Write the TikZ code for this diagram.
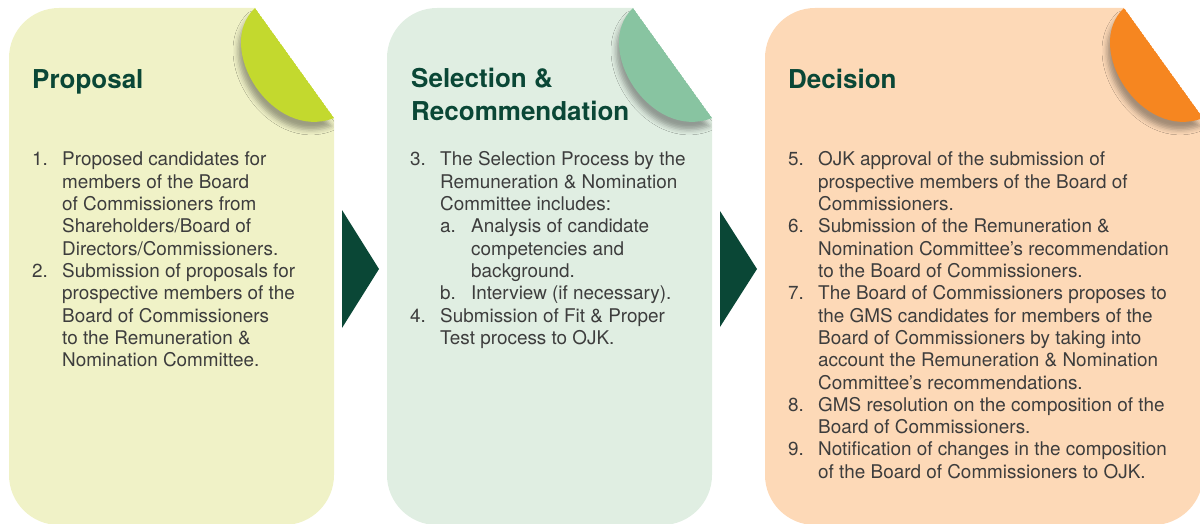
\documentclass[tikz,border=0pt]{standalone}
\usepackage{fontspec}
\setmainfont{TeX Gyre Heros}
\usetikzlibrary{shadows.blur}
\definecolor{pA}{HTML}{F0F2C7}
\definecolor{lA}{HTML}{C3D92E}
\definecolor{pB}{HTML}{E0EEE2}
\definecolor{lB}{HTML}{88C4A1}
\definecolor{pC}{HTML}{FDD9B7}
\definecolor{lC}{HTML}{F68620}
\definecolor{dgreen}{HTML}{0A4736}
\definecolor{bodytxt}{HTML}{3D3D3D}
\newcommand\mylines[1]{\begin{tabular}[t]{@{}l@{}}#1\end{tabular}}
\tikzset{
  panelshape/.style n args={3}{insert path={
    (#1,58) .. controls (#1,30.4) and ({#1+22.4},8) .. ({#1+50},8) -- (#2,8) -- (#3,118)
    -- (#3,475) .. controls (#3,502.6) and ({#3-22.4},525) .. ({#3-50},525)
    -- ({#1+50},525) .. controls ({#1+22.4},525) and (#1,502.6) .. (#1,475) -- cycle}},
  leafshape/.style n args={2}{insert path={
    (#1,8) -- (#2,118) .. controls ({#1+18},142) and ({#1-42},48) .. (#1,8) -- cycle}},
  leafshadow/.style={blur shadow={shadow xshift=-3pt, shadow yshift=-8pt, shadow blur radius=5pt, shadow opacity=35}},
  ptitle/.style={anchor=base west, inner sep=0pt, font=\fontsize{26}{32.5}\selectfont\bfseries, text=dgreen},
  pnum/.style={anchor=base west, inner sep=0pt, font=\fontsize{18.9}{22.3}\selectfont, text=bodytxt},
  pitem/.style={anchor=base west, inner sep=0pt, font=\fontsize{18.9}{22.3}\selectfont, text=bodytxt},
  arrowtri/.style={fill=dgreen},
}
\begin{document}
\begin{tikzpicture}[x=1pt,y=-1pt]
\useasboundingbox (0,0) rectangle (1200,524);
% panels
\fill[pA] [panelshape={9}{255}{334}];
\begin{scope}
  \clip [panelshape={9}{255}{334}];
  \fill[lA, leafshadow] [leafshape={255}{334}];
\end{scope}
\fill[pB] [panelshape={387}{633}{712}];
\begin{scope}
  \clip [panelshape={387}{633}{712}];
  \fill[lB, leafshadow] [leafshape={633}{712}];
\end{scope}
\fill[pC] [panelshape={765}{1124}{1203}];
\begin{scope}
  \clip [panelshape={765}{1124}{1203}];
  \fill[lC, leafshadow] [leafshape={1124}{1203}];
\end{scope}
% arrows
\fill[arrowtri] (342,210) -- (379,269) -- (342,328) -- cycle;
\fill[arrowtri] (720,211) -- (757,269) -- (720,327) -- cycle;
% panel 1
\node[ptitle] (t1) at (32,89) {Proposal};
\node[pnum] (n1) at (32,166) {1.};
\node[pitem] (i1) at (62,166) {\mylines{Proposed candidates for\\members of the Board\\of Commissioners from\\Shareholders/Board of\\Directors/Commissioners.}};
\node[pnum] (n2) at (32,277.5) {2.};
\node[pitem] (i2) at (62,277.5) {\mylines{Submission of proposals for\\prospective members of the\\Board of Commissioners\\to the Remuneration \&\\Nomination Committee.}};
% panel 2
\node[ptitle] (t2) at (411,88) {\mylines{Selection \&\\Recommendation}};
\node[pnum] (n3) at (410,166) {3.};
\node[pitem] (i3) at (440,166) {\mylines{The Selection Process by the\\Remuneration \& Nomination\\Committee includes:}};
\node[pnum] (na) at (440,232.9) {a.};
\node[pitem] (ia) at (471,232.9) {\mylines{Analysis of candidate\\competencies and\\background.}};
\node[pnum] (nb) at (440,299.8) {b.};
\node[pitem] (ib) at (471,299.8) {Interview (if necessary).};
\node[pnum] (n4) at (410,322.1) {4.};
\node[pitem] (i4) at (440,322.1) {\mylines{Submission of Fit \& Proper\\Test process to OJK.}};
% panel 3
\node[ptitle] (t3) at (788,89) {Decision};
\node[pnum] (n5) at (788,166) {5.};
\node[pitem] (i5) at (818,166) {\mylines{OJK approval of the submission of\\prospective members of the Board of\\Commissioners.}};
\node[pnum] (n6) at (788,232.9) {6.};
\node[pitem] (i6) at (818,232.9) {\mylines{Submission of the Remuneration \&\\Nomination Committee’s recommendation\\to the Board of Commissioners.}};
\node[pnum] (n7) at (788,299.8) {7.};
\node[pitem] (i7) at (818,299.8) {\mylines{The Board of Commissioners proposes to\\the GMS candidates for members of the\\Board of Commissioners by taking into\\account the Remuneration \& Nomination\\Committee’s recommendations.}};
\node[pnum] (n8) at (788,411.3) {8.};
\node[pitem] (i8) at (818,411.3) {\mylines{GMS resolution on the composition of the\\Board of Commissioners.}};
\node[pnum] (n9) at (788,455.9) {9.};
\node[pitem] (i9) at (818,455.9) {\mylines{Notification of changes in the composition\\of the Board of Commissioners to OJK.}};
\end{tikzpicture}
\end{document}
